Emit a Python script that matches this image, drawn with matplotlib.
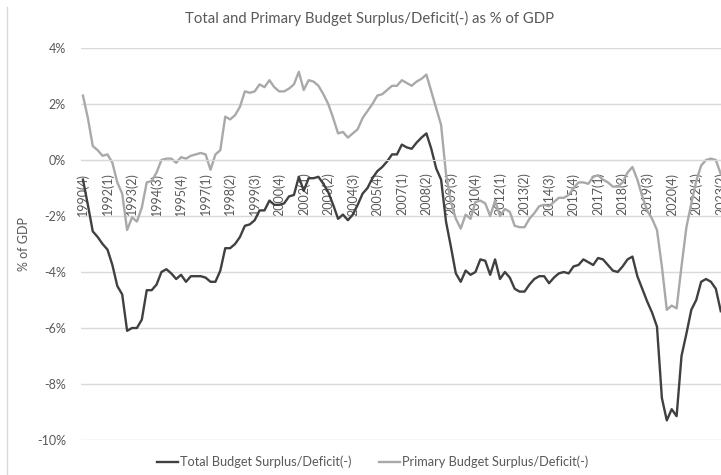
import matplotlib
matplotlib.use("Agg")
import matplotlib.pyplot as plt
from matplotlib.lines import Line2D
from matplotlib.ticker import FuncFormatter, FixedLocator

# Quarterly categories starting 1990(4)
start_year, start_q = 1990, 4
n_quarters = 131
quarters = []
y, q = start_year, start_q
for _ in range(n_quarters):
    quarters.append(f"{y}({q})")
    q += 1
    if q > 4:
        q = 1
        y += 1

total = [-0.7, -1.6, -2.55, -2.75, -3.0, -3.2, -3.75, -4.5, -4.8, -6.1,
         -6.0, -6.0, -5.7, -4.65, -4.65, -4.45, -4.0, -3.9, -4.05, -4.25,
         -4.1, -4.35, -4.15, -4.15, -4.15, -4.2, -4.35, -4.35, -3.95, -3.15,
         -3.15, -3.0, -2.75, -2.35, -2.3, -2.15, -1.8, -1.8, -1.45, -1.6,
         -1.6, -1.55, -1.3, -1.25, -0.6, -1.1, -0.65, -0.65, -0.6, -0.85,
         -1.15, -1.6, -2.1, -1.95, -2.15, -1.95, -1.6, -1.2, -1.0, -0.65,
         -0.4, -0.25, -0.05, 0.2, 0.2, 0.55, 0.45, 0.4, 0.62, 0.8,
         0.95, 0.4, -0.3, -0.7, -2.2, -3.1, -4.05, -4.35, -3.95, -4.1,
         -4.0, -3.55, -3.6, -4.1, -3.55, -4.25, -4.0, -4.2, -4.6, -4.7,
         -4.7, -4.45, -4.25, -4.15, -4.15, -4.4, -4.2, -4.05, -4.0, -4.05,
         -3.8, -3.75, -3.55, -3.65, -3.75, -3.5, -3.55, -3.75, -3.95, -4.0,
         -3.8, -3.55, -3.45, -4.15, -4.6, -5.05, -5.45, -5.95, -8.5, -9.3,
         -8.9, -9.15, -7.0, -6.2, -5.35, -5.0, -4.35, -4.25, -4.35, -4.6,
         -5.4]

primary = [2.3, 1.5, 0.5, 0.35, 0.15, 0.2, -0.1, -0.8, -1.2, -2.5,
           -2.05, -2.2, -1.7, -0.8, -0.75, -0.45, 0.0, 0.05, 0.05, -0.1,
           0.1, 0.05, 0.15, 0.2, 0.25, 0.2, -0.35, 0.2, 0.35, 1.55,
           1.45, 1.6, 1.9, 2.45, 2.4, 2.45, 2.7, 2.6, 2.85, 2.6,
           2.45, 2.45, 2.55, 2.7, 3.15, 2.5, 2.85, 2.8, 2.65, 2.35,
           2.0, 1.5, 0.95, 1.0, 0.8, 0.95, 1.1, 1.5, 1.75, 2.0,
           2.3, 2.35, 2.5, 2.65, 2.65, 2.85, 2.75, 2.65, 2.8, 2.9,
           3.05, 2.45, 1.85, 1.25, -0.5, -1.5, -2.1, -2.45, -1.95, -2.1,
           -1.5, -1.45, -1.55, -2.0, -1.45, -2.0, -1.75, -1.85, -2.35, -2.4,
           -2.4, -2.1, -1.9, -1.65, -1.6, -1.65, -1.5, -1.35, -1.35, -1.25,
           -1.0, -0.8, -0.8, -0.85, -0.6, -0.55, -0.7, -0.8, -0.95, -0.95,
           -0.8, -0.45, -0.25, -0.7, -1.3, -1.8, -2.1, -2.5, -3.8, -5.35,
           -5.2, -5.3, -3.8, -2.4, -1.55, -0.75, -0.2, 0.0, 0.05, 0.0,
           -0.5]

y_ticks = [4, 2, 0, -2, -4, -6, -8, -10]
label_step = 5

TEXT = "#595959"
plt.rcParams['font.family'] = ['Lato', 'DejaVu Sans']

W, H = 721, 475
fig = plt.figure(figsize=(W / 100, H / 100), dpi=100)
ax = fig.add_axes([80.5 / W, 1 - 440 / H, 1 - 80.5 / W, (440 - 48) / H])

x = list(range(n_quarters))
l1, = ax.plot(x, total, color="#404040", lw=1.7, solid_joinstyle="round")
l2, = ax.plot(x, primary, color="#a9a9a9", lw=1.7, solid_joinstyle="round")

ax.set_ylim(-10, 4)
ax.set_xlim(-0.5, 130.05)
ax.set_yticks(y_ticks)
ax.yaxis.set_major_formatter(FuncFormatter(lambda v, p: f"{int(v)}%"))
ax.grid(axis="y", color="#d9d9d9", lw=1)
ax.set_axisbelow(True)

for s in ["top", "right", "left"]:
    ax.spines[s].set_visible(False)
ax.spines["bottom"].set_position(("data", 0))
ax.spines["bottom"].set_color("#d9d9d9")

tick_pos = x[::label_step]
ax.xaxis.set_major_locator(FixedLocator(tick_pos))
ax.set_xticklabels(quarters[::label_step], rotation=90, fontsize=9, color=TEXT)
ax.tick_params(axis="x", length=0, pad=9)
ax.tick_params(axis="y", length=0, pad=10.5, labelsize=9, labelcolor=TEXT)
ax.set_ylabel("% of GDP", fontsize=9, color=TEXT)
ax.yaxis.set_label_coords((30 - 80.5) / (W - 80.5), 0.5)

fig.text(0.513, 1 - 18 / H, "Total and Primary Budget Surplus/Deficit(-) as % of GDP",
         ha="center", va="center", fontsize=10.75, color=TEXT)

fig.legend([l1, l2], ["Total Budget Surplus/Deficit(-)", "Primary Budget Surplus/Deficit(-)"],
           loc="center", bbox_to_anchor=(372.5 / W, 1 - 462 / H), ncol=2, frameon=False,
           fontsize=9.2, labelcolor=TEXT, handlelength=1.6, handletextpad=0.15,
           columnspacing=2.2)

# chart-area border (left edge visible in the reference)
fig.add_artist(Line2D([6.5 / W, 6.5 / W], [0, 1 - 7 / H], transform=fig.transFigure,
                      color="#d9d9d9", lw=1))

fig.savefig("out.png", dpi=100)
